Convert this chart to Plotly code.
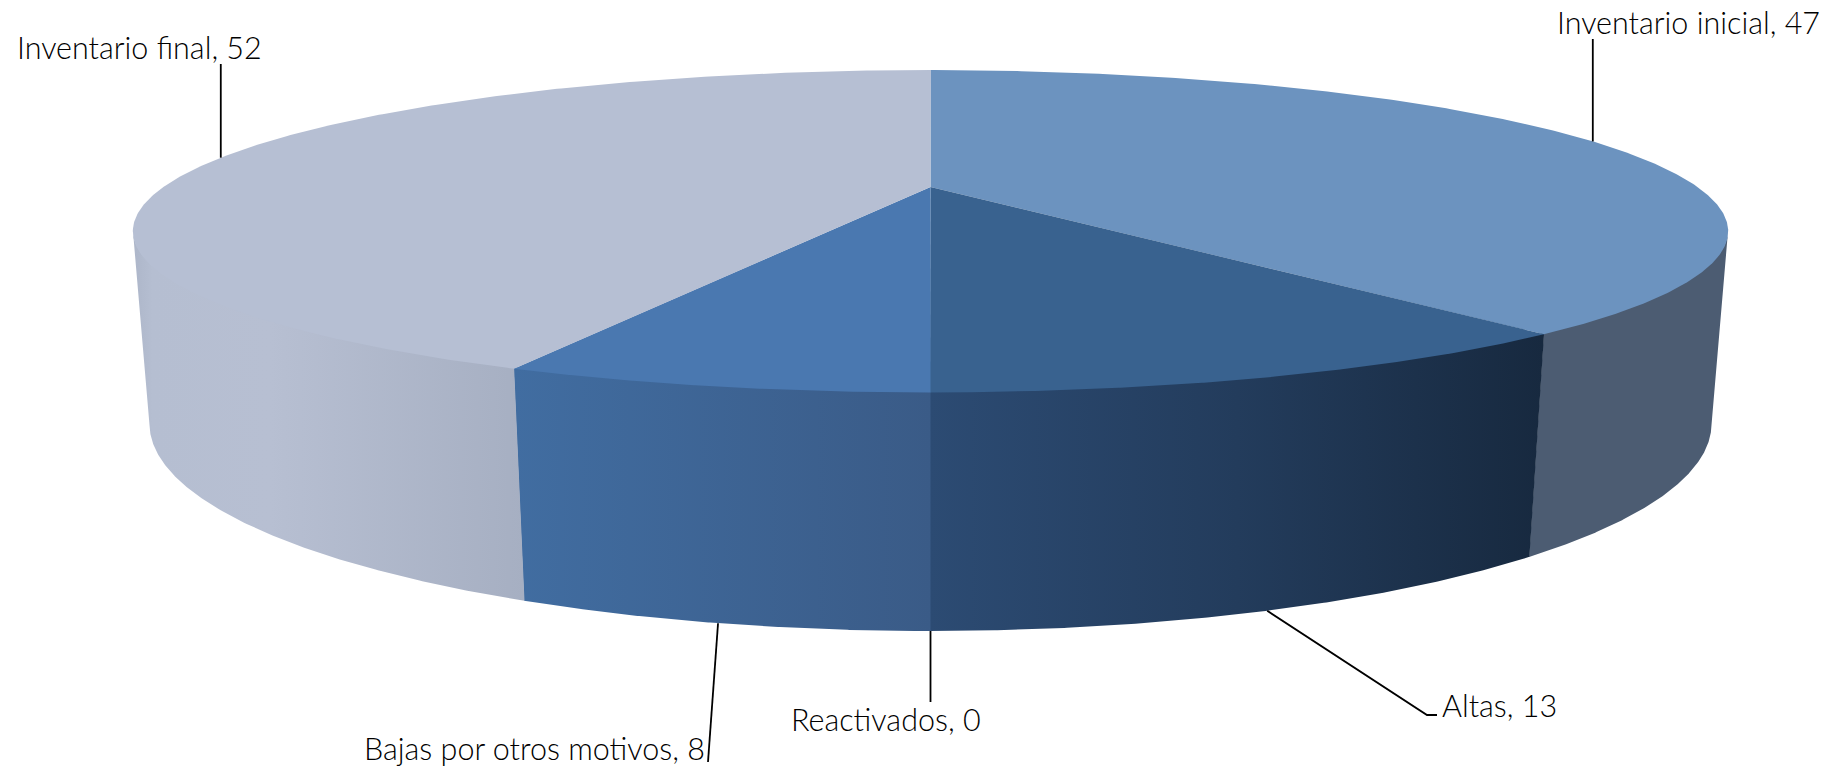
import numpy as np
import plotly.graph_objects as go

# ---- data -------------------------------------------------------------
labels = ["Inventario inicial", "Altas", "Reactivados", "Bajas por otros motivos", "Inventario final"]
values = [47, 13, 0, 8, 52]

# ---- styles -----------------------------------------------------------
top_colors = ["#6C93BF", "#39628F", "#4A78B0", "#4A78B0", "#B6BFD3"]
wall_scales = [
    [[0, "#4C5C72"], [1, "#4C5C72"]],
    [[0, "#2C4B73"], [0.5, "#233C5C"], [1, "#17293F"]],
    [[0, "#3F6A9E"], [1, "#3F6A9E"]],
    [[0, "#416DA1"], [1, "#3A5B87"]],
    [[0, "#ADB6C9"], [0.05, "#B5BED1"], [0.35, "#B7BFD2"], [1, "#A6AFC2"]],
]
FONT = "Lato"
FONT_SIZE = 30.5

# label placement: left x, middle y, and where the leader stops (None = straight below/above)
label_pos = [(1557, 22), (1442, 705), (791, 719), (364, 748), (17, 47)]
leader_end = [[(None, 39)], [(1427, 715), (1437, 715)], [(None, 702)], [(708, 762)], [(None, 64)]]
leader_on_bottom = [False, True, True, True, False]

# ---- projection of the disc ---------------------------------------------
CX = 930.5
TOP = dict(a=767.0, b=149.0, k=0.2746, c=187.0)
BOT = dict(a=752.0, b=192.0, k=0.27, c=368.0)
# the rim is only visible between the two silhouette angles
VIS_LO = np.degrees(np.arccos(-TOP["k"]))
VIS_HI = 360.0 - VIS_LO
SEAM = 0.03  # degrees of overlap so neighbouring polygons leave no hairline
TUCK = 1.5   # the rim runs this far under the top face


def project(theta_deg, p):
    t = np.radians(theta_deg)
    X, Y = np.sin(t), np.cos(t)
    w = 1 + p["k"] * Y
    return CX + p["a"] * X / w, p["c"] - p["b"] * Y / w


total = sum(values)
edges = np.concatenate([[0], np.cumsum(values)]) / total * 360.0

fig = go.Figure()

# side walls first, tops on top of them
for i, v in enumerate(values):
    if v == 0:
        continue
    lo, hi = max(edges[i], VIS_LO), min(edges[i + 1] + SEAM, VIS_HI)
    if hi <= lo:
        continue
    th = np.linspace(lo, hi, 240)
    xt, yt = project(th, TOP)
    yt = yt - TUCK
    xb, yb = project(th[::-1], BOT)
    xs = np.concatenate([xt, xb, xt[:1]])
    ys = np.concatenate([yt, yb, yt[:1]])
    fig.add_trace(go.Scatter(
        x=xs, y=ys, mode="lines", fill="toself", line=dict(width=0),
        fillgradient=dict(type="horizontal", colorscale=wall_scales[i],
                          start=float(np.min(xs)), stop=float(np.max(xs))),
        hoverinfo="skip", showlegend=False,
    ))

for i, v in enumerate(values):
    if v == 0:
        continue
    th = np.linspace(edges[i], edges[i + 1] + SEAM, 360)
    xt, yt = project(th, TOP)
    fig.add_trace(go.Scatter(
        x=np.concatenate([[CX], xt, [CX]]),
        y=np.concatenate([[TOP["c"]], yt, [TOP["c"]]]),
        mode="lines", fill="toself", fillcolor=top_colors[i], line=dict(width=0),
        hoverinfo="skip", showlegend=False,
    ))

# leader lines and labels
annotations = []
for i, (name, v) in enumerate(zip(labels, values)):
    mid = (edges[i] + edges[i + 1]) / 2
    x0, y0 = project(mid, BOT if leader_on_bottom[i] else TOP)
    x0, y0 = float(x0), float(y0)
    px = [x0] + [x0 if p[0] is None else p[0] for p in leader_end[i]]
    py = [y0] + [p[1] for p in leader_end[i]]
    fig.add_trace(go.Scatter(
        x=px, y=py, mode="lines", line=dict(color="#000000", width=1.8),
        hoverinfo="skip", showlegend=False,
    ))
    annotations.append(dict(
        x=label_pos[i][0], y=label_pos[i][1], xref="x", yref="y",
        text=f"{name}, {v}", showarrow=False, xanchor="left", yanchor="middle",
        xshift=-2, font=dict(family=FONT, size=FONT_SIZE, color="#000000", weight=300),
    ))

fig.update_layout(
    width=1834, height=768,
    margin=dict(l=0, r=0, t=0, b=0),
    paper_bgcolor="#FFFFFF", plot_bgcolor="#FFFFFF",
    xaxis=dict(range=[0, 1834], visible=False, fixedrange=True),
    yaxis=dict(range=[768, 0], visible=False, fixedrange=True),
    annotations=annotations, showlegend=False,
)
fig.write_html("out.html", config={"displayModeBar": False},
               post_script="document.body.style.margin='0';document.body.style.overflow='hidden';")
